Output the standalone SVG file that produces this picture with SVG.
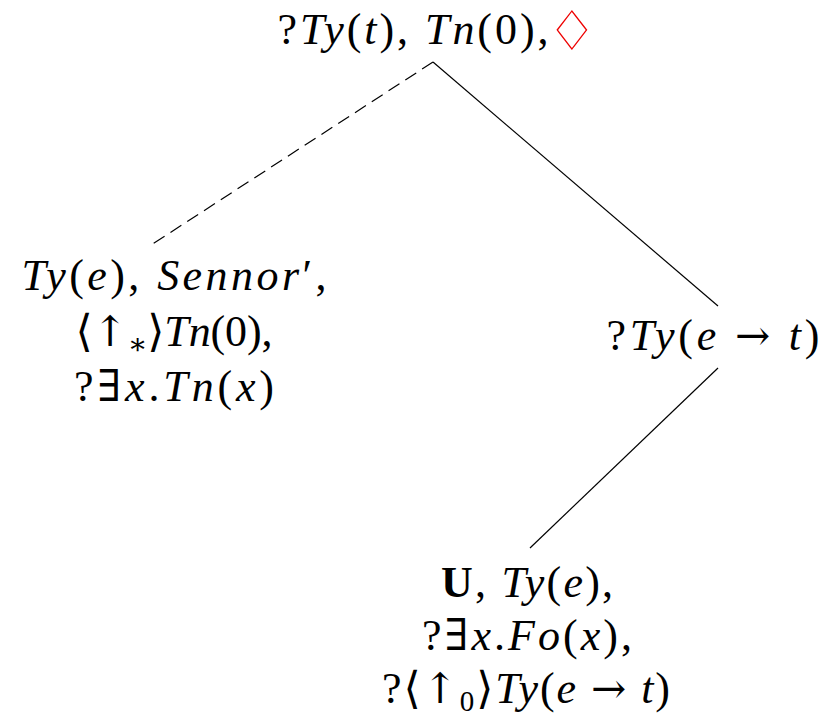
<svg xmlns="http://www.w3.org/2000/svg" width="823" height="719" viewBox="0 0 823 719">
<style>
text{font-family:"Liberation Serif","DejaVu Serif",serif;font-size:44px;fill:#000;text-anchor:middle}
.i{font-style:italic}
.b{font-weight:bold}
.s{font-size:29px}
.a{font-family:"DejaVu Serif",serif;font-size:42px}
.red{fill:#ee0000;font-family:"DejaVu Sans",sans-serif;font-size:55px}
line{stroke:#000;stroke-width:1.2}
</style>
<rect width="823" height="719" fill="#fff"/>
<g id="connectors">
<line x1="433" y1="62" x2="148" y2="247" stroke-dasharray="13,7"/>
<line x1="433" y1="62" x2="718" y2="306"/>
<line x1="718" y1="368" x2="530" y2="548"/>
</g>
<g id="root">
<text x="413" y="44" textLength="271" lengthAdjust="spacing">?<tspan class="i">Ty</tspan>(<tspan class="i">t</tspan>), <tspan class="i">Tn</tspan>(0),</text>
<text class="red" x="572" y="50">♢</text>
</g>
<g id="left">
<text x="174" y="290" textLength="305" lengthAdjust="spacing"><tspan class="i">Ty</tspan>(<tspan class="i">e</tspan>), <tspan class="i">Sennor</tspan>′,</text>
<text x="174" y="346" textLength="197" lengthAdjust="spacing">⟨<tspan class="a">↑</tspan><tspan class="s" dy="8">∗</tspan><tspan dy="-8">⟩</tspan><tspan class="i">Tn</tspan>(0),</text>
<text x="174" y="401" textLength="200" lengthAdjust="spacing">?∃<tspan class="i">x</tspan>.<tspan class="i">Tn</tspan>(<tspan class="i">x</tspan>)</text>
</g>
<g id="right">
<text x="713" y="350" textLength="213" lengthAdjust="spacing">?<tspan class="i">Ty</tspan>(<tspan class="i">e</tspan> <tspan class="a">→</tspan> <tspan class="i">t</tspan>)</text>
</g>
<g id="bottom">
<text x="527" y="597" textLength="172" lengthAdjust="spacing"><tspan class="b">U</tspan>, <tspan class="i">Ty</tspan>(<tspan class="i">e</tspan>),</text>
<text x="527" y="650" textLength="210" lengthAdjust="spacing">?∃<tspan class="i">x</tspan>.<tspan class="i">Fo</tspan>(<tspan class="i">x</tspan>),</text>
<text x="526" y="703" textLength="288" lengthAdjust="spacing">?⟨<tspan class="a">↑</tspan><tspan class="s" dy="8">0</tspan><tspan dy="-8">⟩</tspan><tspan class="i">Ty</tspan>(<tspan class="i">e</tspan> <tspan class="a">→</tspan> <tspan class="i">t</tspan>)</text>
</g>
</svg>
